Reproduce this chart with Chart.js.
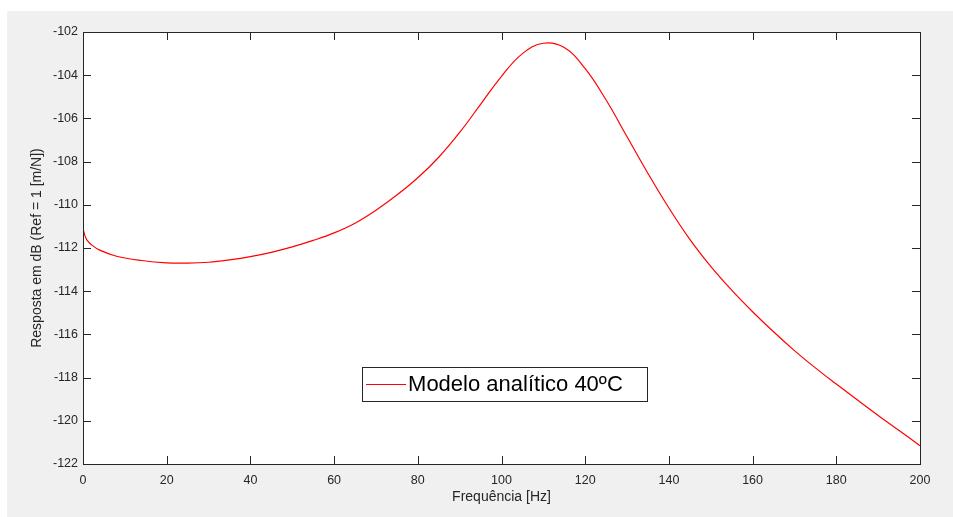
<!DOCTYPE html>
<html>
<head>
<meta charset="utf-8">
<script src="https://cdn.jsdelivr.net/npm/chart.js@4"></script>
<style>
  html, body { margin: 0; padding: 0; background: #fff; }
  #wrap { position: absolute; left: 7px; top: 11px; width: 946px; height: 506px; background: #f0f0f0; }
</style>
</head>
<body>
<div id="wrap"><canvas id="frfChart"></canvas></div>
<script>
// valores
const frequencia = [0, 0.5, 1, 2, 4, 8, 14, 20, 25, 30, 35, 40, 45, 50, 55, 60, 65, 70, 75, 80, 85, 90, 95, 100, 105, 110, 115, 120, 125, 130, 135, 140, 145, 150, 155, 160, 165, 170, 175, 180, 185, 190, 195, 200];
const resposta = [-111.1, -111.45, -111.65, -111.85, -112.1, -112.38, -112.58, -112.69, -112.7, -112.66, -112.55, -112.4, -112.2, -111.95, -111.65, -111.3, -110.85, -110.25, -109.55, -108.75, -107.8, -106.65, -105.35, -104.05, -103.0, -102.52, -102.72, -103.7, -105.15, -106.85, -108.55, -110.15, -111.6, -112.85, -113.95, -114.95, -115.88, -116.75, -117.55, -118.3, -119.03, -119.75, -120.45, -121.15];
const ticksX = [0, 20, 40, 60, 80, 100, 120, 140, 160, 180, 200];
const ticksY = [-122, -120, -118, -116, -114, -112, -110, -108, -106, -104, -102];

const corEixo = '#262626';
const fonte = '"Liberation Sans", Arial, sans-serif';

// caixa, ticks para dentro e legenda ao estilo MATLAB
const caixaMatlab = {
  id: 'caixaMatlab',
  beforeDraw(chart) {
    const a = chart.chartArea;
    const c = chart.ctx;
    c.save();
    c.fillStyle = '#fff';
    c.fillRect(a.left, a.top, a.right - a.left, a.bottom - a.top);
    c.restore();
  },
  afterDraw(chart) {
    const a = chart.chartArea;
    const c = chart.ctx;
    const sx = chart.scales.x, sy = chart.scales.y;
    const tl = 8;
    c.save();
    c.strokeStyle = corEixo;
    c.lineWidth = 1;
    c.beginPath();
    ticksX.forEach(v => {
      const px = Math.round(sx.getPixelForValue(v)) + 0.5;
      c.moveTo(px, a.bottom); c.lineTo(px, a.bottom - tl);
      c.moveTo(px, a.top); c.lineTo(px, a.top + tl);
    });
    ticksY.forEach(v => {
      const py = Math.round(sy.getPixelForValue(v)) + 0.5;
      c.moveTo(a.left, py); c.lineTo(a.left + tl, py);
      c.moveTo(a.right, py); c.lineTo(a.right - tl, py);
    });
    c.stroke();
    c.strokeRect(Math.round(a.left) + 0.5, Math.round(a.top) + 0.5, Math.round(a.right - a.left), Math.round(a.bottom - a.top));

    // legenda
    const w = a.right - a.left, h = a.bottom - a.top;
    const lx = a.left + w * 0.3334, ly = a.top + h * 0.7755;
    const lw = 285, lh = 34;
    c.fillStyle = '#fff';
    c.fillRect(lx, ly, lw, lh);
    c.strokeStyle = corEixo;
    c.strokeRect(Math.round(lx) + 0.5, Math.round(ly) + 0.5, lw, lh);
    const ds = chart.data.datasets[0];
    c.strokeStyle = ds.borderColor;
    c.beginPath();
    c.moveTo(lx + 4, Math.round(ly + lh / 2) + 0.5);
    c.lineTo(lx + 44, Math.round(ly + lh / 2) + 0.5);
    c.stroke();
    c.fillStyle = '#000';
    c.font = '22px ' + fonte;
    c.textBaseline = 'middle';
    c.textAlign = 'left';
    c.fillText(ds.label, lx + 46, ly + lh / 2 + 1);
    c.restore();
  }
};

const ctx = document.getElementById('frfChart').getContext('2d');

const frfChart = new Chart(ctx, {
  type: 'line',
  data: {
    datasets: [{
      label: 'Modelo analítico 40ºC',
      data: frequencia.map((f, i) => ({ x: f, y: resposta[i] })),
      borderColor: '#ff0000',
      borderWidth: 1.2,
      pointRadius: 0,
      tension: 0.4,
      fill: false
    }]
  },
  options: {
    responsive: true,
    maintainAspectRatio: false,
    animation: false,
    layout: { padding: { left: 0, top: 21, right: 33, bottom: 0 } },
    plugins: {
      legend: { display: false },
      tooltip: { enabled: false }
    },
    scales: {
      x: {
        type: 'linear',
        min: 0,
        max: 200,
        afterFit: s => { s.height = 53; },
        afterBuildTicks: s => { s.ticks = ticksX.map(v => ({ value: v })); },
        grid: { display: false, drawTicks: false },
        border: { display: false },
        ticks: { color: corEixo, font: { family: fonte, size: 12.5 }, padding: 9, maxRotation: 0 },
        title: {
          display: true,
          text: 'Frequência [Hz]',
          color: corEixo,
          font: { family: fonte, size: 14 },
          padding: { top: 0, bottom: 11 }
        }
      },
      y: {
        type: 'linear',
        min: -122,
        max: -102,
        afterFit: s => { s.width = 76; },
        afterBuildTicks: s => { s.ticks = ticksY.map(v => ({ value: v })); },
        grid: { display: false, drawTicks: false },
        border: { display: false },
        ticks: { color: corEixo, font: { family: fonte, size: 12.5 }, padding: 5 },
        title: {
          display: true,
          text: 'Resposta em dB (Ref = 1 [m/N])',
          color: corEixo,
          font: { family: fonte, size: 14 },
          padding: { top: 22, bottom: 0 }
        }
      }
    }
  },
  plugins: [caixaMatlab]
});
</script>
</body>
</html>
